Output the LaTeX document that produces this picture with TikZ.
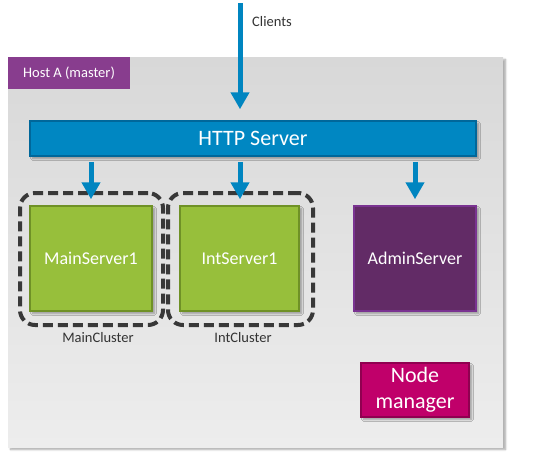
\documentclass[tikz,border=0pt]{standalone}
\usepackage{fontspec}
\setmainfont{Carlito}
\usetikzlibrary{arrows.meta,shadows.blur}
\definecolor{hostA}{HTML}{D8D8D8}
\definecolor{hostB}{HTML}{EDEDED}
\definecolor{hostlbl}{HTML}{883D8E}
\definecolor{httpfill}{HTML}{0087C2}
\definecolor{httpdraw}{HTML}{00679A}
\definecolor{arrblue}{HTML}{0085C0}
\definecolor{grfill}{HTML}{97BF3B}
\definecolor{grdraw}{HTML}{6F9126}
\definecolor{admfill}{HTML}{622B66}
\definecolor{admdraw}{HTML}{7A3391}
\definecolor{nmfill}{HTML}{C0006A}
\definecolor{nmdraw}{HTML}{900050}
\definecolor{dashgray}{HTML}{383838}
\definecolor{txtgray}{HTML}{333333}
\tikzset{
  shd/.style={blur shadow={shadow blur steps=6, shadow xshift=2.5pt, shadow yshift=-2.5pt, shadow opacity=35}},
  hostbox/.style={shd, draw=none, top color=hostA, bottom color=hostB, minimum width=495pt, minimum height=390pt},
  hostlabel/.style={fill=hostlbl, text=white, font=\fontsize{14.5}{17}\selectfont, minimum width=122pt, minimum height=32pt, inner sep=0pt},
  httpbox/.style={shd, fill=httpfill, draw=httpdraw, line width=1.5pt, text=white, font=\fontsize{22}{26}\selectfont, minimum width=446pt, minimum height=35pt, inner sep=0pt},
  srvbox/.style={shd, line width=1.5pt, text=white, font=\fontsize{18}{22}\selectfont, minimum height=105pt, inner sep=0pt},
  greenbox/.style={srvbox, fill=grfill, draw=grdraw},
  adminbox/.style={srvbox, fill=admfill, draw=admdraw},
  nmbox/.style={shd, fill=nmfill, draw=nmdraw, line width=1.5pt, text=white, font=\fontsize{22}{26}\selectfont, align=center, minimum width=108pt, minimum height=54pt, inner sep=0pt},
  cluster/.style={draw=dashgray, line width=4pt, dash pattern=on 10pt off 5pt, rounded corners=15pt, minimum height=132pt, inner sep=0pt},
  clabel/.style={text=txtgray, font=\fontsize{14.5}{17}\selectfont, inner sep=0pt},
  arr/.style={draw=arrblue, line width=5pt, -{Triangle[width=18pt,length=17pt]}},
}
\begin{document}
\begin{tikzpicture}[x=1pt,y=-1pt]
\useasboundingbox (0,0) rectangle (544,461);
\node[hostbox] (host) at (255.5,252) {};
\node[hostlabel] (hostlbl) at (69,73) {Host A (master)};
\node[httpbox] (http) at (253,138.5) {HTTP Server};
\node[cluster, minimum width=143pt] (mainc) at (91.5,259) {};
\node[cluster, minimum width=145pt] (intc) at (240.5,259) {};
\node[greenbox, minimum width=122pt] (main) at (91,258.5) {MainServer1};
\node[greenbox, minimum width=119pt] (int) at (239.5,258.5) {IntServer1};
\node[adminbox, minimum width=122pt] (admin) at (415,258.5) {AdminServer};
\node[nmbox] (nm) at (415,390) {Node\\manager};
\node[clabel] (mainlbl) at (98,338) {MainCluster};
\node[clabel] (intlbl) at (243,338) {IntCluster};
\coordinate (ctop) at (240,3);
\coordinate (ix) at (240,0);
\node[clabel, anchor=west] (clients) at (252,22) {Clients};
\draw[arr, shorten >=11pt] (ctop) -- (ctop |- http.north);
\draw[arr, shorten <=5pt, shorten >=6pt] (main.north |- http.south) -- (main.north);
\draw[arr, shorten <=5pt, shorten >=6pt] (ix |- http.south) -- (ix |- int.north);
\draw[arr, shorten <=5pt, shorten >=6pt] (admin.north |- http.south) -- (admin.north);
\end{tikzpicture}
\end{document}
